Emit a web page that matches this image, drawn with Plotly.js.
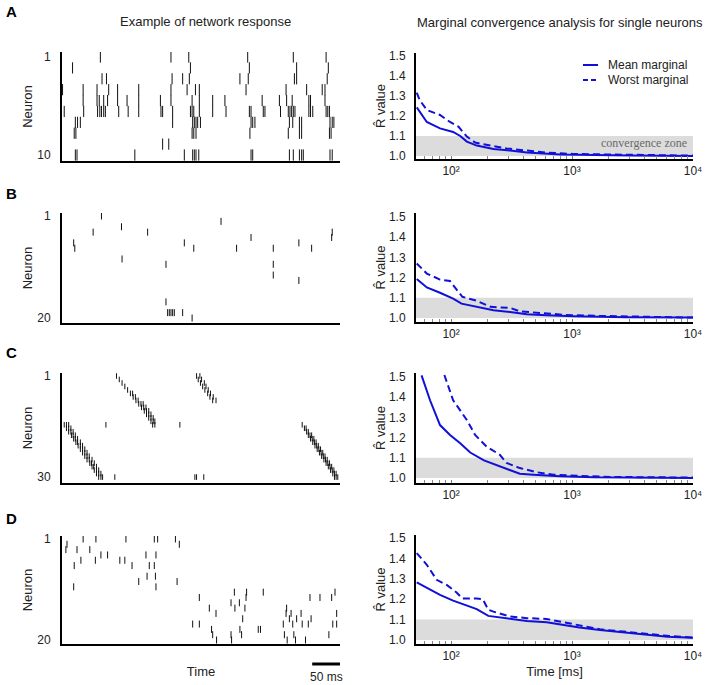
<!DOCTYPE html>
<html><head><meta charset="utf-8">
<script src="https://cdn.plot.ly/plotly-3.0.1.min.js"></script>
<style>body{margin:0;background:#fff}#chart{width:708px;height:685px}</style>
</head><body><div id="chart"></div>
<script>
// ---------- DATA ----------
const panelLabels = ['A', 'B', 'C', 'D'];
const neuronCounts = [10, 20, 30, 20];
const rasterDuration = 500; // ms shown in each raster
const scaleBarMs = 50;

// spike times (ms) per neuron, row i = neuron i+1
const spikesA = [
  [69,196,228,334,416,475],
  [19,231,337,422,479],
  [72,80,198,217,229,320,335,418,422,477],
  [1,38,63,84,100,138,196,225,240,247,331,403,440,468,473],
  [38,63,67,75,82,100,117,138,177,196,234,247,271,293,360,391,404,414,444,447,473],
  [4,39,64,68,71,75,78,102,119,138,178,181,199,231,234,237,247,271,295,337,340,362,365,393,407,410,413,416,419,444,447,451,475,478,481],
  [24,28,33,199,235,238,241,244,249,340,343,347,409,415,427,431,482,486,489],
  [22,25,234,237,241,338,407,427,431,481,484],
  [181,192],
  [24,27,131,220,235,238,241,246,340,343,409,416,427,431,434,482,486]
];
const spikesB = [
  [71],[286],[107],[56,154,486],[340,485],[21,220,426],[23,237,314,380,449],[],
  [108],[187,380],[],[380],[426],[],[],[],[187],[],[190,193,196,199,202,217],[234]
];
const spikesC = [
  [98,242,248],[103,245,251],[108,249,256],[113,253,259],[118,257,263],
  [123,127,262,267],[128,132,266,272],[133,137,271,277],[138,142,146],[143,147,151],
  [148,152,156],[152,156,160],[156,160,164],[160,164,167],
  [4,8,12,79,163,167,212,432],[8,12,16,436,439],[12,16,20,440,443],[17,20,24,443,446,449],
  [21,24,28,447,450,453],[25,28,33,451,454,457],[29,33,37,455,458,461],[33,37,41,459,462,465],
  [37,41,45,463,466,469],[41,45,49,467,470,473],[45,49,54,471,474,477],[50,53,58,475,478,481],
  [54,57,62,479,482,485],[58,62,66,483,486,489],[62,66,70,487,490,493],
  [66,70,73,95,239,242,255,490,493,496]
];
const spikesD = [
  [38,61,115,166,172,204],[9,211],[7,27,50],[70,82,151,169],[34,60,104,113],
  [22,126,157,166],[],[153,168],[138,207],[21,169],
  [310,332,362,491],[247,331,446,464,485],[304,319],[265,311,329,404],[277,403,412,430,494],
  [325,409,422,448],[235,247,398,415,432,443,487,494],[269,320,353,357],[271,304,323,400,417,480],
  [278,305,405,420,438]
];

// R-hat convergence curves: time [ms] and values
const tMeanA  = [52,63,81,104,119,135,163,224,307,424,794,1500,3000,10000];
const meanA   = [1.243,1.17,1.138,1.12,1.10,1.072,1.052,1.035,1.027,1.017,1.008,1.004,1.002,1.0];
const tWorstA = [52,55,63,81,98,115,135,158,224,288,423,617,1024,2800,10000];
const worstA  = [1.317,1.28,1.23,1.205,1.17,1.147,1.097,1.067,1.05,1.038,1.027,1.017,1.01,1.005,1.002];

const tMeanB  = [52,63,81,104,122,151,224,307,423,617,1024,2800,10000];
const meanB   = [1.193,1.151,1.125,1.096,1.071,1.06,1.038,1.03,1.018,1.013,1.008,1.003,1.002];
const tWorstB = [52,63,81,98,112,124,163,212,307,370,540,890,1700,3900,10000];
const worstB  = [1.27,1.22,1.19,1.183,1.138,1.105,1.085,1.055,1.05,1.033,1.025,1.015,1.01,1.005,1.002];

const tMeanC  = [57,67,81,98,119,144,187,275,307,370,480,794,1500,10000];
const meanC   = [1.508,1.385,1.262,1.213,1.172,1.126,1.087,1.049,1.038,1.021,1.016,1.008,1.003,1.0];
const tWorstC = [88,104,135,158,196,253,288,370,515,700,1100,2100,10000];
const worstC  = [1.51,1.385,1.287,1.213,1.156,1.115,1.074,1.049,1.028,1.016,1.011,1.005,1.002];

const tMeanD  = [52,63,81,104,135,163,203,254,307,423,617,890,1150,1700,2640,3900,6150,10000];
const meanD   = [1.282,1.254,1.221,1.193,1.167,1.151,1.118,1.111,1.102,1.093,1.087,1.070,1.061,1.049,1.038,1.028,1.016,1.011];
const tWorstD = [52,63,76,92,111,124,163,183,203,224,307,423,617,890,1150,1700,2640,3900,6150,10000];
const worstD  = [1.426,1.369,1.295,1.27,1.233,1.203,1.203,1.2,1.148,1.139,1.115,1.107,1.103,1.085,1.069,1.052,1.041,1.03,1.02,1.011];

const rTickVals = [1.0,1.1,1.2,1.3,1.4,1.5];
const zoneLow = 1.0, zoneHigh = 1.1;
const logTickVals = [100, 1000, 10000];
const logTickText = ['10\u00B2', '10\u00B3', '10\u2074'];
const logMinorVals = [60,70,80,90,200,300,400,500,600,700,800,900,2000,3000,4000,5000,6000,7000,8000,9000];

// ---------- LAYOUT HELPERS ----------
const W = 708, H = 685;
const px = v => v / W, py = v => 1 - v / H;
const FONT = 'Liberation Sans, DejaVu Sans, Arial, sans-serif';
const BLUE = '#1010d8';
const rasterTop = [52,213,373,536], rasterBot = [161,323,483,644];
const convTop = [53,213,373,535], convBot = [159,322,483,644];
const rasterRanges = [[10.55,0.54],[20.93,0.44],[31.7,0.14],[20.75,0.44]];
const convYRanges = [[0.985,1.515],[0.98,1.52],[0.975,1.52],[0.98,1.515]];
const tickSizes = [8,5,4,5];
const allSpikes = [spikesA, spikesB, spikesC, spikesD];
const curves = [
  [tMeanA,meanA,tWorstA,worstA],[tMeanB,meanB,tWorstB,worstB],
  [tMeanC,meanC,tWorstC,worstC],[tMeanD,meanD,tWorstD,worstD]
];

const traces = [];
const layout = {
  width: W, height: H, margin: {l:0,r:0,t:0,b:0},
  paper_bgcolor: '#fff', plot_bgcolor: 'rgba(0,0,0,0)',
  showlegend: false, font: {family: FONT, size: 12, color: '#222'},
  shapes: [], annotations: []
};
const axName = i => i === 1 ? '' : String(i);

for (let r = 0; r < 4; r++) {
  const iR = 2*r + 1, iC = 2*r + 2;
  // raster trace
  const xs = [], ys = [];
  allSpikes[r].forEach((row, k) => row.forEach(t => { xs.push(t); ys.push(k + 1); }));
  traces.push({
    type: 'scatter', mode: 'markers', x: xs, y: ys,
    xaxis: 'x' + axName(iR), yaxis: 'y' + axName(iR), hoverinfo: 'skip',
    marker: {symbol: 'line-ns', size: tickSizes[r], color: '#000', line: {width: 1, color: '#111'}}
  });
  // convergence traces
  const [tm, m, tw, w] = curves[r];
  traces.push({type:'scatter', mode:'lines', x: tm, y: m, name:'Mean marginal',
    xaxis:'x'+axName(iC), yaxis:'y'+axName(iC), line:{color:BLUE, width:2}});
  traces.push({type:'scatter', mode:'lines', x: tw, y: w, name:'Worst marginal',
    xaxis:'x'+axName(iC), yaxis:'y'+axName(iC), line:{color:BLUE, width:2, dash:'7px,4px'}});

  const rx = {
    domain: [px(62), px(340)], range: [0, rasterDuration], anchor: 'y' + axName(iR),
    showline: true, linecolor: '#000', linewidth: 2, showticklabels: false, ticks: '',
    tickmode: 'array', tickvals: [], showgrid: false, zeroline: false, fixedrange: true
  };
  if (r === 3) rx.title = {text: 'Time', font: {size: 13, color: '#222'}, standoff: 22};
  layout['xaxis' + axName(iR)] = rx;
  layout['yaxis' + axName(iR)] = {
    domain: [py(rasterBot[r]), py(rasterTop[r])], range: rasterRanges[r], anchor: 'x' + axName(iR),
    showline: true, linecolor: '#000', linewidth: 2, showgrid: false, zeroline: false,
    tickvals: [1, neuronCounts[r]], ticktext: ['1', String(neuronCounts[r])], ticks: '',
    ticklabelstandoff: 7, tickfont: {size: 12, color: '#222'},
    title: {text: 'Neuron', font: {size: 13, color: '#222'}, standoff: 2}
  };
  const cx = {
    type: 'log', domain: [px(416), px(693)], range: [1.71, 4], anchor: 'y' + axName(iC),
    showline: true, linecolor: '#000', linewidth: 2, showgrid: false, zeroline: false,
    tickmode: 'array', tickvals: logTickVals, ticktext: logTickText, ticks: 'inside', ticklen: 3, tickwidth: 1,
    tickcolor: '#777', tickfont: {size: 12, color: '#222'},
    minor: {tickmode: 'array', tickvals: logMinorVals, ticks: 'inside', ticklen: 3, tickwidth: 1, tickcolor: '#888', showgrid: false}
  };
  if (r === 3) cx.title = {text: 'Time [ms]', font: {size: 13, color: '#222'}, standoff: 4};
  layout['xaxis' + axName(iC)] = cx;
  layout['yaxis' + axName(iC)] = {
    domain: [py(convBot[r]), py(convTop[r])], range: convYRanges[r], anchor: 'x' + axName(iC),
    showline: true, linecolor: '#000', linewidth: 2, showgrid: false, zeroline: false,
    tickmode: 'array', tickvals: rTickVals, tickformat: '.1f', ticks: '', ticklabelstandoff: 6,
    tickfont: {size: 12, color: '#222'},
    title: {text: 'R\u0302 value', font: {size: 13, color: '#222'}, standoff: 0}
  };
  // convergence zone band
  layout.shapes.push({type:'rect', xref:'x'+axName(iC)+' domain', x0:0, x1:1,
    yref:'y'+axName(iC), y0: zoneLow, y1: zoneHigh, fillcolor:'#dcdcdc', line:{width:0}, layer:'below'});
  // panel letter
  layout.annotations.push({text: '<b>' + panelLabels[r] + '</b>', xref:'paper', yref:'paper',
    x: px(4), y: py([12,193,353,518][r]), xanchor:'left', yanchor:'middle', showarrow:false,
    font:{size:15, color:'#000'}});
}

// headers
layout.annotations.push({text:'Example of network response', xref:'paper', yref:'paper',
  x: px(205), y: py(21), xanchor:'center', yanchor:'middle', showarrow:false, font:{size:13, color:'#222'}});
layout.annotations.push({text:'Marginal convergence analysis for single neurons', xref:'paper', yref:'paper',
  x: px(560), y: py(22), xanchor:'center', yanchor:'middle', showarrow:false, font:{size:13, color:'#222'}});
// convergence zone label
layout.annotations.push({text:'convergence zone', xref:'x2 domain', yref:'y2', x: 0.985, y: 1.063,
  xanchor:'right', yanchor:'middle', showarrow:false,
  font:{family:'Liberation Serif, DejaVu Serif, serif', size:12, color:'#6a6a6a'}});
// manual legend in panel A
const legendItems = [['Mean marginal','solid',65],['Worst marginal','5px,3px',80]];
legendItems.forEach(([txt, dash, yy]) => {
  layout.shapes.push({type:'line', xref:'paper', yref:'paper', x0:px(583), x1:px(598), y0:py(yy), y1:py(yy),
    line:{color:BLUE, width:2, dash: dash}});
  layout.annotations.push({text: txt, xref:'paper', yref:'paper', x: px(606), y: py(yy),
    xanchor:'left', yanchor:'middle', showarrow:false, font:{size:12, color:'#222'}});
});
// scale bar (50 ms in raster D data units)
layout.shapes.push({type:'line', xref:'x7', yref:'paper', x0: rasterDuration - scaleBarMs, x1: rasterDuration,
  y0: py(664), y1: py(664), line:{color:'#000', width:3}});
layout.annotations.push({text: scaleBarMs + ' ms', xref:'x7', yref:'paper', x: rasterDuration - scaleBarMs/2,
  y: py(677), xanchor:'center', yanchor:'middle', showarrow:false, font:{size:12, color:'#222'}});

Plotly.newPlot('chart', traces, layout, {displayModeBar:false, staticPlot:true});
</script>
</body></html>
